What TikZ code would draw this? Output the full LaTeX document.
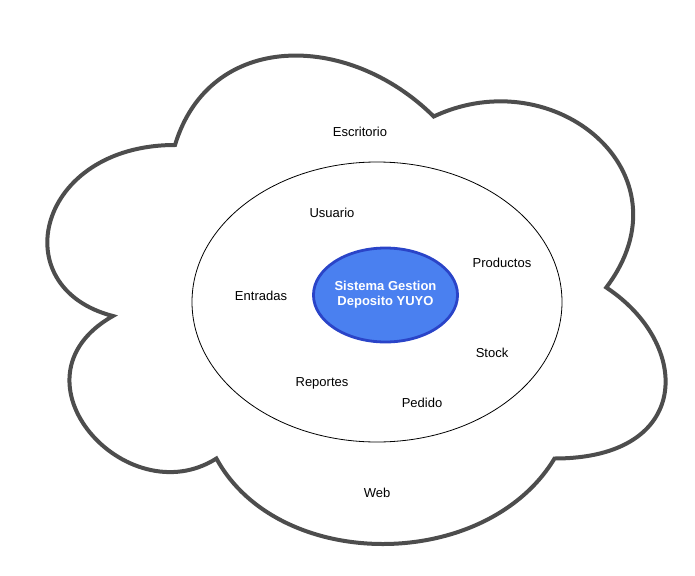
\documentclass[tikz,border=0pt]{standalone}
\usepackage{fontspec}
\setmainfont{Liberation Sans}
\usetikzlibrary{shapes.geometric}
\definecolor{cloudgray}{HTML}{4D4D4D}
\definecolor{corefill}{HTML}{4A80F0}
\definecolor{coredraw}{HTML}{2A44C8}
\begin{document}
\begin{tikzpicture}[x=1pt,y=-1pt,
  lbl/.style={font=\fontsize{13}{15}\selectfont, text=black, inner sep=0pt},
  cloudline/.style={draw=cloudgray, line width=4pt, miter limit=20},
  ring/.style={ellipse, draw=black, line width=0.8pt, minimum width=370pt, minimum height=280pt, inner sep=0pt},
  core/.style={ellipse, draw=coredraw, fill=corefill, line width=2.8pt, minimum width=134pt, minimum height=94pt, inner sep=0pt, align=center, text=white, font=\bfseries\fontsize{13}{15}\selectfont}]
\useasboundingbox (0,0) rectangle (695,575);
% cloud
\draw[cloudline] (175,145)
  .. controls (37,145) and (2.5,287.5) .. (112.9,316)
  .. controls (2.5,378.7) and (126.7,515.5) .. (216.4,458.5)
  .. controls (278.5,572.5) and (485.5,572.5) .. (554.5,458.5)
  .. controls (692.5,458.5) and (692.5,344.5) .. (606.25,287.5)
  .. controls (692.5,173.5) and (554.5,59.5) .. (433.75,116.5)
  .. controls (347.5,31) and (209.5,31) .. (175,145) -- cycle;
\node[ring] (ring) at (377,302) {};
\node[core] (core) at (385.5,295) {Sistema Gestion\\Deposito YUYO};
\node[lbl] (escritorio) at (360,132) {Escritorio};
\node[lbl] (usuario) at (332,213) {Usuario};
\node[lbl] (productos) at (502,263) {Productos};
\node[lbl] (entradas) at (261,296) {Entradas};
\node[lbl] (stock) at (492,353) {Stock};
\node[lbl] (reportes) at (322,383) {Reportes};
\node[lbl] (pedido) at (422,403) {Pedido};
\node[lbl] (web) at (377,493) {Web};
\end{tikzpicture}
\end{document}
